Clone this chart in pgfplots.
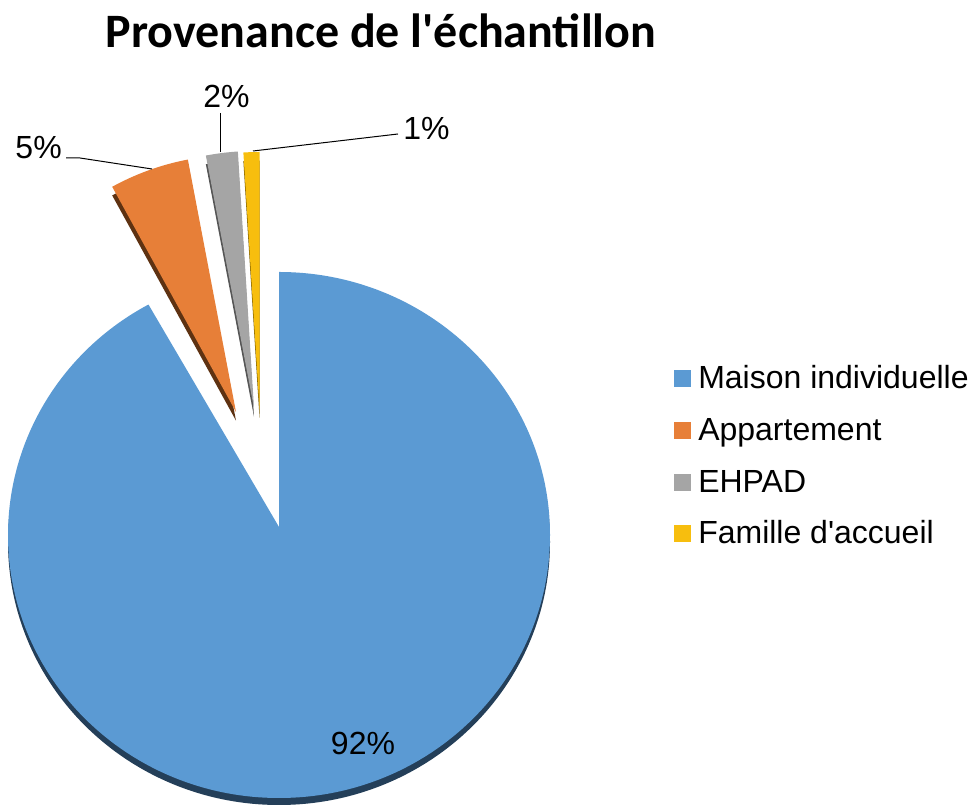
\documentclass[border=0pt]{standalone}
\usepackage{pgfplots}
\pgfplotsset{compat=1.18}
\usepackage{fontspec}
\setmainfont{Liberation Sans}
\newfontfamily\titlefont{Carlito}
\definecolor{cA}{HTML}{5B9AD3}
\definecolor{cAd}{HTML}{243F59}
\definecolor{cB}{HTML}{E77F38}
\definecolor{cBd}{HTML}{5E3212}
\definecolor{cC}{HTML}{A5A5A5}
\definecolor{cCd}{HTML}{555555}
\definecolor{cD}{HTML}{F7BE0E}
\definecolor{cDd}{HTML}{7A5C00}
% data (percent)
\def\vA{92}\def\vB{5}\def\vC{2}\def\vD{1}
\begin{document}
\begin{tikzpicture}
\begin{axis}[x=0.75pt, y=0.75pt, xmin=0, xmax=971, ymin=0, ymax=806,
  hide axis, clip=false, scale only axis]
\path (axis cs:0,0) rectangle (axis cs:971,806);
% --- Maison individuelle
\fill[cAd, yshift=-5.25pt] (axis cs:279,279) -- (axis cs:279,534)
  arc[start angle=90, end angle={90-3.6*\vA}, x radius=203.25pt, y radius=197.25pt] -- cycle;
\fill[cA] (axis cs:279,279) -- (axis cs:279,534)
  arc[start angle=90, end angle={90-3.6*\vA}, x radius=203.25pt, y radius=197.25pt] -- cycle;
% --- Appartement
\fill[cBd, yshift=-6.5pt] (axis cs:236,394) -- ++({90-3.6*\vA}:192.75pt)
  arc[start angle={90-3.6*\vA}, end angle={90-3.6*(\vA+\vB)}, radius=192.75pt] -- cycle;
\fill[cB] (axis cs:236,394) -- ++({90-3.6*\vA}:192.75pt)
  arc[start angle={90-3.6*\vA}, end angle={90-3.6*(\vA+\vB)}, radius=192.75pt] -- cycle;
% --- EHPAD
\fill[cCd, yshift=-6.5pt] (axis cs:254,398) -- ++({90-3.6*(\vA+\vB)}:192.75pt)
  arc[start angle={90-3.6*(\vA+\vB)}, end angle={90-3.6*(\vA+\vB+\vC)}, radius=192.75pt] -- cycle;
\fill[cC] (axis cs:254,398) -- ++({90-3.6*(\vA+\vB)}:192.75pt)
  arc[start angle={90-3.6*(\vA+\vB)}, end angle={90-3.6*(\vA+\vB+\vC)}, radius=192.75pt] -- cycle;
% --- Famille d'accueil
\fill[cDd, yshift=-6.5pt] (axis cs:259.5,397) -- ++({90-3.6*(\vA+\vB+\vC)}:192.75pt)
  arc[start angle={90-3.6*(\vA+\vB+\vC)}, end angle={90-3.6*(\vA+\vB+\vC+\vD)}, radius=192.75pt] -- cycle;
\fill[cD] (axis cs:259.5,397) -- ++({90-3.6*(\vA+\vB+\vC)}:192.75pt)
  arc[start angle={90-3.6*(\vA+\vB+\vC)}, end angle={90-3.6*(\vA+\vB+\vC+\vD)}, radius=192.75pt] -- cycle;
% --- leader lines
\draw[black, line width=0.75pt] (axis cs:66,648) -- (axis cs:80,648) -- (axis cs:152,637);
\draw[black, line width=0.75pt] (axis cs:220,693) -- (axis cs:220,654);
\draw[black, line width=0.75pt] (axis cs:398,672) -- (axis cs:253,655);
% --- labels
\node[anchor=base east, inner sep=0pt, font=\fontsize{24}{28}\selectfont] at (axis cs:62,647) {\vB\%};
\node[anchor=base, inner sep=0pt, font=\fontsize{24}{28}\selectfont] at (axis cs:226.5,698) {\vC\%};
\node[anchor=base, inner sep=0pt, font=\fontsize{24}{28}\selectfont] at (axis cs:426.5,666) {\vD\%};
\node[anchor=base, inner sep=0pt, font=\fontsize{24}{28}\selectfont] at (axis cs:363,51) {\vA\%};
% --- title
\node[anchor=base, inner sep=0pt, font=\titlefont\bfseries\fontsize{36}{40}\selectfont] at (axis cs:381,758) {Provenance de l\textquotesingle échantillon};
% --- legend
\fill[cA] (axis cs:674,419) rectangle (axis cs:691,436);
\fill[cB] (axis cs:674,367) rectangle (axis cs:691,384);
\fill[cC] (axis cs:674,315) rectangle (axis cs:691,332);
\fill[cD] (axis cs:674,264) rectangle (axis cs:691,281);
\node[anchor=base west, inner sep=0pt, font=\fontsize{24}{28}\selectfont] at (axis cs:698,417) {Maison individuelle};
\node[anchor=base west, inner sep=0pt, font=\fontsize{24}{28}\selectfont] at (axis cs:698,365) {Appartement};
\node[anchor=base west, inner sep=0pt, font=\fontsize{24}{28}\selectfont] at (axis cs:698,313) {EHPAD};
\node[anchor=base west, inner sep=0pt, font=\fontsize{24}{28}\selectfont] at (axis cs:698,262) {Famille d\textquotesingle accueil};
\end{axis}
\end{tikzpicture}
\end{document}
